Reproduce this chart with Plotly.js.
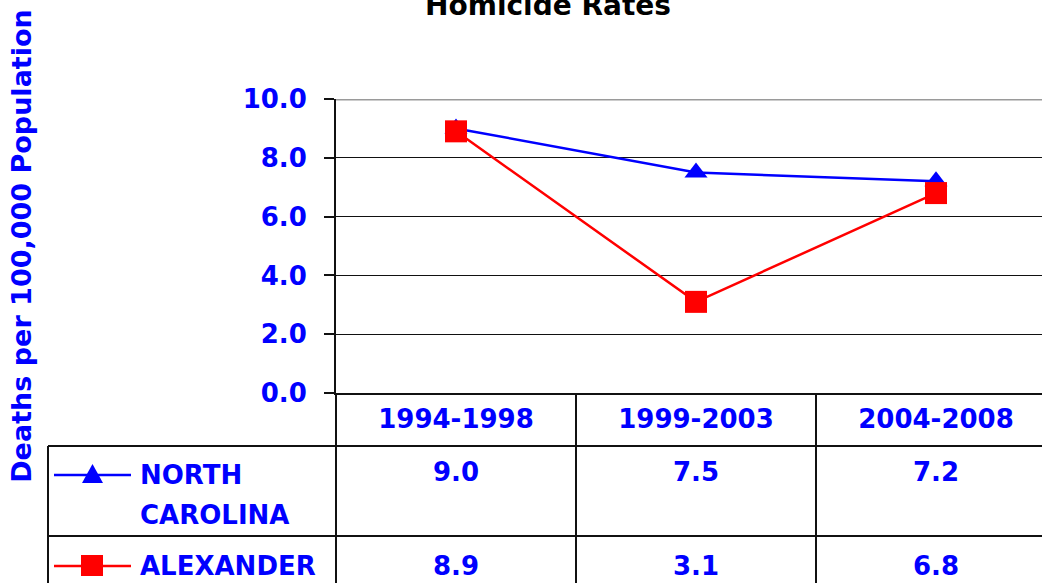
<!DOCTYPE html>
<html>
<head>
<meta charset="utf-8">
<script src="https://cdn.plot.ly/plotly-3.0.1.min.js"></script>
<style>html,body{margin:0;padding:0;background:#fff;}#chart{width:1042px;height:583px;}</style>
</head>
<body>
<div id="chart"></div>
<script>
// ---- data ----
const categories = ['1994-1998', '1999-2003', '2004-2008'];
const seriesNames = ['NORTH CAROLINA', 'ALEXANDER'];
const northCarolina = [9.0, 7.5, 7.2];
const alexander = [8.9, 3.1, 6.8];
const yTickVals = [0, 2, 4, 6, 8, 10];
const chartTitle = 'Homicide Rates';
const yTitle = 'Deaths per 100,000 Population';

// ---- layout geometry (pixels) ----
const W = 1042, H = 583;
const L = 336, T = 99, B = 393;
const PW = W - L, PH = B - T;
const px = x => (x - L) / PW;
const py = y => (B - y) / PH;

const BLUE = '#0000ff', RED = '#ff0000';
const FONT = 'DejaVu Sans, Verdana, sans-serif';

const traces = [
  {x: categories, y: northCarolina, name: seriesNames[0], type: 'scatter', mode: 'lines+markers',
   line: {color: BLUE, width: 2.5}, marker: {symbol: 'triangle-up', size: 20, color: BLUE}, cliponaxis: false},
  {x: categories, y: alexander, name: seriesNames[1], type: 'scatter', mode: 'lines+markers',
   line: {color: RED, width: 2.5}, marker: {symbol: 'square', size: 22, color: RED}, cliponaxis: false}
];

const rowsY = [472, 566];        // value row centres
const nameRows = [[475, 515], [566]];
const seriesData = [northCarolina, alexander];
const seriesColors = [BLUE, RED];
const seriesSymbols = ['triangle', 'square'];

const annotations = [];
seriesData.forEach((vals, s) => {
  vals.forEach((v, i) => {
    annotations.push({x: categories[i], xref: 'x', y: py(rowsY[s]), yref: 'paper',
      text: v.toFixed(1), showarrow: false, xanchor: 'center', yanchor: 'middle',
      font: {family: FONT, size: 26, color: BLUE, weight: 'bold'}});
  });
  seriesNames[s].split(' ').forEach((word, k) => {
    annotations.push({x: px(138), xref: 'paper', y: py(nameRows[s][k]), yref: 'paper',
      text: word, showarrow: false, xanchor: 'left', yanchor: 'middle',
      font: {family: FONT, size: 26, color: BLUE, weight: 'bold'}});
  });
});

const K = '#111111';
const shapes = [
  // top border of plot (grey)
  {type: 'line', xref: 'paper', yref: 'y', x0: 0, x1: 1, y0: 10, y1: 10, line: {color: '#9a9a9a', width: 3}},
  // table lines
  {type: 'line', xref: 'paper', yref: 'paper', x0: 0, x1: 0, y0: 0, y1: py(H), line: {color: K, width: 2}},
  {type: 'line', xref: 'paper', yref: 'paper', x0: px(48), x1: px(W), y0: py(446), y1: py(446), line: {color: K, width: 2}},
  {type: 'line', xref: 'paper', yref: 'paper', x0: px(48), x1: px(W), y0: py(536), y1: py(536), line: {color: K, width: 2}},
  {type: 'line', xref: 'paper', yref: 'paper', x0: px(48), x1: px(48), y0: py(446), y1: py(H), line: {color: K, width: 2}},
  {type: 'line', xref: 'x', yref: 'paper', x0: 0.5, x1: 0.5, y0: 0, y1: py(H), line: {color: K, width: 2}},
  {type: 'line', xref: 'x', yref: 'paper', x0: 1.5, x1: 1.5, y0: 0, y1: py(H), line: {color: K, width: 2}}
];
// legend keys inside the table
seriesColors.forEach((c, s) => {
  const yc = nameRows[s][0];
  shapes.push({type: 'line', xref: 'paper', yref: 'paper', x0: px(54), x1: px(131), y0: py(yc), y1: py(yc), line: {color: c, width: 2.5}});
  let path;
  if (seriesSymbols[s] === 'triangle') {
    path = `M ${px(82)} ${py(yc + 8)} L ${px(103)} ${py(yc + 8)} L ${px(92.5)} ${py(yc - 11)} Z`;
  } else {
    path = `M ${px(81)} ${py(yc - 11)} L ${px(103)} ${py(yc - 11)} L ${px(103)} ${py(yc + 10)} L ${px(81)} ${py(yc + 10)} Z`;
  }
  shapes.push({type: 'path', xref: 'paper', yref: 'paper', path: path, fillcolor: c, line: {width: 0}});
});

const layout = {
  width: W, height: H,
  margin: {l: L, r: 0, t: T, b: H - B, pad: 0},
  paper_bgcolor: '#ffffff', plot_bgcolor: '#ffffff',
  showlegend: false,
  title: {text: chartTitle, x: 548 / W, xanchor: 'center', y: 1 - 5 / H, yanchor: 'middle', yref: 'container',
          font: {family: FONT, size: 28, color: '#000000', weight: 'bold'}},
  xaxis: {type: 'category', range: [-0.5, -0.5 + 3 * PW / 720], showgrid: false, zeroline: false,
          showline: true, linecolor: K, linewidth: 2, ticks: '', ticklabelstandoff: 2,
          tickfont: {family: FONT, size: 26, color: BLUE, weight: 'bold'}, fixedrange: true},
  yaxis: {range: [0, 10], tickvals: yTickVals, tickformat: '.1f', showgrid: true, gridcolor: K, gridwidth: 1.2,
          zeroline: false, showline: true, linecolor: K, linewidth: 2, ticks: 'outside', ticklen: 10,
          tickwidth: 2, tickcolor: K, ticklabelstandoff: 12,
          tickfont: {family: FONT, size: 26, color: BLUE, weight: 'bold'},
          title: {text: yTitle, standoff: 203, font: {family: FONT, size: 27, color: BLUE, weight: 'bold'}},
          fixedrange: true},
  shapes: shapes,
  annotations: annotations
};

Plotly.newPlot('chart', traces, layout, {displayModeBar: false, staticPlot: true});
</script>
</body>
</html>
